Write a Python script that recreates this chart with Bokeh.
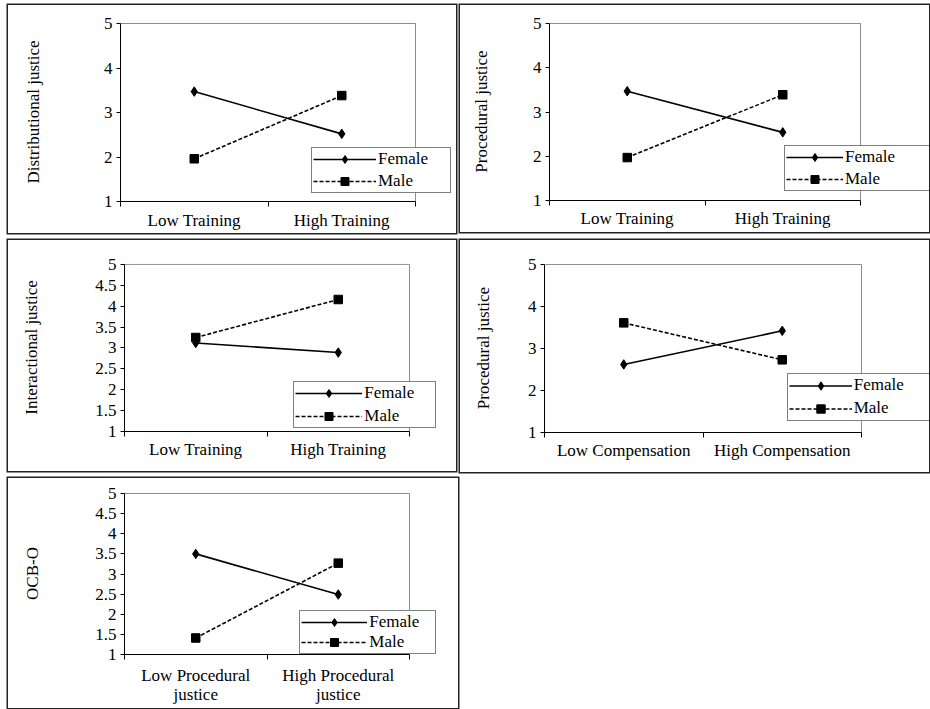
from bokeh.plotting import figure
from bokeh.models import Range1d, FixedTicker, Legend, LegendItem, Spacer
from bokeh.layouts import column, row
from bokeh.embed import file_html
from bokeh.resources import INLINE

FONT = "Liberation Serif"
FS = "17px"

# ---- data ----
training_levels = ["Low Training", "High Training"]
compensation_levels = ["Low Compensation", "High Compensation"]
procedural_levels = ["Low Procedural\njustice", "High Procedural\njustice"]
groups = ["Female", "Male"]

y_ticks_int = [1, 2, 3, 4, 5]
y_labels_int = ["1", "2", "3", "4", "5"]
y_ticks_half = [1, 1.5, 2, 2.5, 3, 3.5, 4, 4.5, 5]
y_labels_half = ["1", "1.5", "2", "2.5", "3", "3.5", "4", "4.5", "5"]

dist_female = [3.47, 2.52]
dist_male = [1.96, 3.38]
proc_train_female = [3.47, 2.54]
proc_train_male = [1.97, 3.39]
inter_female = [3.12, 2.89]
inter_male = [3.25, 4.16]
proc_comp_female = [2.62, 3.42]
proc_comp_male = [3.61, 2.73]
ocb_female = [3.50, 2.49]
ocb_male = [1.41, 3.27]

Y_MIN, Y_MAX = 1, 5


def panel(cats, female, male, ylabel, yticks, ylabels, geom, ylab_standoff,
          xlab_standoff, leg):
    # geom: figure w, h and pixel positions (figure-relative) of the plot area
    w, h, left, y5, y1, x2, fr = geom
    n = len(cats)
    xmax = n * (fr - left) / (x2 - left)
    y_end = Y_MAX + (Y_MAX - Y_MIN) / (y1 - y5)
    p = figure(width=w, height=h, x_range=Range1d(0, xmax), y_range=Range1d(Y_MIN, y_end),
               output_backend="svg", toolbar_location=None, tools="",
               min_border_left=left, min_border_top=y5 - 1, min_border_right=w - fr,
               min_border_bottom=h - y1, background_fill_color="white",
               border_fill_color="white",
               styles={"box-shadow": "0 0 0 1.5px #222222"})
    p.xgrid.visible = False
    p.ygrid.visible = False
    p.outline_line_color = None

    # plot-area border (top and right, grey)
    p.line([0, n, n], [Y_MAX, Y_MAX, Y_MIN], line_color="#8c8c8c", line_width=1)

    xs = [i + 0.5 for i in range(n)]
    lf = p.line(xs, female, line_color="black", line_width=1.6)
    sf = p.scatter(xs, female, marker="diamond", size=9.5,
                   fill_color="black", line_color="black")
    lm = p.line(xs, male, line_color="black", line_width=1.6, line_dash="4 2")
    sm = p.scatter(xs, male, marker="square", size=8.5,
                   fill_color="black", line_color="black")

    xa = p.xaxis[0]
    xa.bounds = (0, n)
    xa.ticker = FixedTicker(ticks=xs, minor_ticks=list(range(n + 1)))
    xa.major_label_overrides = {x: c for x, c in zip(xs, cats)}
    xa.major_tick_out = 0
    xa.major_tick_in = 0
    xa.minor_tick_out = 5
    xa.minor_tick_in = 0
    xa.minor_tick_line_color = "black"
    xa.axis_line_color = "black"
    xa.major_label_standoff = xlab_standoff
    xa.major_label_text_font = FONT
    xa.major_label_text_font_size = FS
    xa.major_label_text_color = "black"
    xa.major_label_text_line_height = 1.05

    ya = p.yaxis[0]
    ya.bounds = (Y_MIN, Y_MAX)
    ya.ticker = FixedTicker(ticks=yticks, minor_ticks=[])
    ya.major_label_overrides = {t: s for t, s in zip(yticks, ylabels)}
    ya.major_tick_out = 4
    ya.major_tick_in = 0
    ya.minor_tick_out = 0
    ya.minor_tick_in = 0
    ya.major_tick_line_color = "black"
    ya.axis_line_color = "black"
    ya.major_label_standoff = 4
    ya.major_label_text_font = FONT
    ya.major_label_text_font_size = FS
    ya.major_label_text_color = "black"
    ya.axis_label = ylabel
    ya.axis_label_text_font = FONT
    ya.axis_label_text_font_size = FS
    ya.axis_label_text_font_style = "normal"
    ya.axis_label_text_color = "black"
    ya.axis_label_standoff = ylab_standoff

    loc, gw, lw, lh, sp = leg
    legend = Legend(items=[LegendItem(label=groups[0], renderers=[lf, sf]),
                           LegendItem(label=groups[1], renderers=[lm, sm])],
                    location=loc, padding=1, margin=0, spacing=sp,
                    glyph_width=gw, glyph_height=lh, label_width=lw, label_height=lh,
                    label_standoff=2, label_text_font=FONT, label_text_font_size=FS,
                    label_text_color="black",
                    border_line_color="black", border_line_width=1,
                    background_fill_color="white", background_fill_alpha=1)
    p.add_layout(legend)
    return p


p1 = panel(training_levels, dist_female, dist_male, "Distributional justice",
           y_ticks_int, y_labels_int, (448, 228, 112, 18, 196, 407, 443), 58, 4,
           ((191, 8), 63, 71, 20, 2))
p2 = panel(training_levels, proc_train_female, proc_train_male, "Procedural justice",
           y_ticks_int, y_labels_int, (469, 227, 89, 18, 195, 400, 469), 39, 3,
           ((235, 8.7), 57, 83, 20, 2))
p3 = panel(training_levels, inter_female, inter_male, "Interactional justice",
           y_ticks_half, y_labels_half, (448, 231, 116, 9, 191, 401, 428), 51, 3,
           ((169.3, 3.3), 67, 70, 20, 3))
p4 = panel(compensation_levels, proc_comp_female, proc_comp_male, "Procedural justice",
           y_ticks_int, y_labels_int, (469, 232, 84, 24, 201, 401, 469), 32, 3,
           ((242.7, 11.3), 63, 75, 21, 2))
p5 = panel(procedural_levels, ocb_female, ocb_male, "OCB-O",
           y_ticks_half, y_labels_half, (450, 230, 116, 15, 176, 401, 428), 50, 6,
           ((175.3, 0.5), 66, 65, 20, 0))

r1 = row(Spacer(width=8), p1, Spacer(width=4), p2)
r2 = row(Spacer(width=8), p3, Spacer(width=4), p4)
r3 = row(Spacer(width=8), p5)
layout = column(Spacer(height=5), r1, Spacer(height=7), r2, Spacer(height=6), r3)

open("out.html", "w").write(file_html(layout, INLINE))
